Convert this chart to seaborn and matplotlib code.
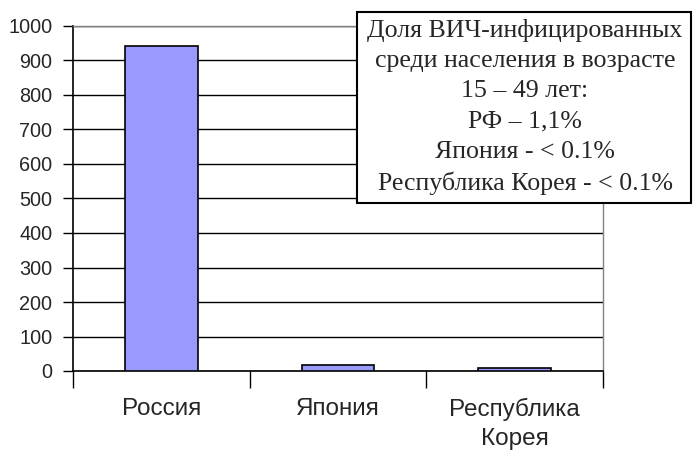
import matplotlib
matplotlib.use("Agg")
import matplotlib.pyplot as plt
import seaborn as sns
import pandas as pd
from matplotlib.patches import Rectangle
from matplotlib.ticker import FixedLocator, NullFormatter

countries = ["Россия", "Япония", "Республика\nКорея"]
values = [942, 16, 10]
y_ticks = list(range(0, 1001, 100))
note_lines = [
    "Доля ВИЧ-инфицированных",
    "среди населения в возрасте",
    "15 – 49 лет:",
    "РФ – 1,1%",
    "Япония - < 0.1%",
    "Республика Корея - < 0.1%",
]

sns.set_style("white")
plt.rcParams["font.family"] = ["Liberation Sans", "DejaVu Sans"]

df = pd.DataFrame({"country": countries, "value": values})

W, H = 694, 450
fig = plt.figure(figsize=(W / 100, H / 100), dpi=100)
ax = fig.add_axes([73 / W, 1 - 371 / H, 530 / W, 345 / H])

sns.barplot(data=df, x="country", y="value", color="#9999FF", width=0.41,
            edgecolor="black", linewidth=1.2, saturation=1, ax=ax, zorder=3)

ax.set_ylim(0, 1000)
ax.set_xlim(-0.5, 2.5)
ax.set_yticks(y_ticks)
ax.yaxis.grid(True, color="black", linewidth=1.0, zorder=0)
ax.set_axisbelow(True)

# tick marks at category boundaries, labels centred under bars
ax.xaxis.set_major_locator(FixedLocator([-0.5, 0.5, 1.5, 2.5]))
ax.xaxis.set_major_formatter(NullFormatter())
ax.xaxis.set_minor_locator(FixedLocator([0, 1, 2]))
ax.set_xticklabels(countries, minor=True)
ax.tick_params(axis="x", which="major", length=12, width=1, color="black",
               direction="out", bottom=True)
ax.tick_params(axis="x", which="minor", length=0, pad=19.5, labelsize=17.5)
ax.tick_params(axis="y", length=7, width=1, color="black", direction="out",
               left=True, labelsize=14.3, pad=8)
for lbl in ax.get_xticklabels(minor=True):
    lbl.set_linespacing(1.42)

ax.set_xlabel("")
ax.set_ylabel("")
for side in ["left", "bottom"]:
    ax.spines[side].set_color("black")
    ax.spines[side].set_linewidth(1.2)
for side in ["top", "right"]:
    ax.spines[side].set_color("#808080")
    ax.spines[side].set_linewidth(1.0)

# note box with prevalence figures
fig.add_artist(Rectangle((357 / W, 1 - 203 / H), 334 / W, 191 / H,
                         transform=fig.transFigure, facecolor="white",
                         edgecolor="black", linewidth=1.5, zorder=9))
fig.text(525 / W, 1 - 107 / H, "\n".join(note_lines), ha="center", va="center",
         fontsize=18.6, family=["Liberation Serif", "DejaVu Serif"],
         linespacing=1.48, zorder=10)

fig.savefig("out.png", dpi=100)
